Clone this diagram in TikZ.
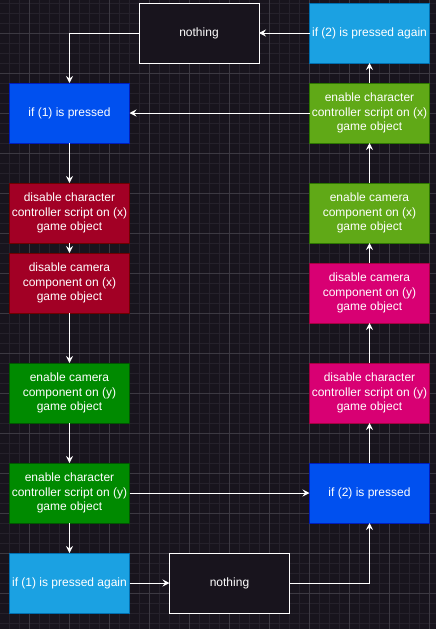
\documentclass[tikz,border=0pt]{standalone}
\usepackage{fontspec}
\setmainfont{Liberation Sans}
\usetikzlibrary{arrows.meta}
\definecolor{bgdark}{HTML}{18141D}
\definecolor{gridminor}{HTML}{25212B}
\definecolor{gridmajor}{HTML}{3C3942}
\definecolor{bluefill}{HTML}{0050EF}
\definecolor{blueline}{HTML}{001DBC}
\definecolor{skyfill}{HTML}{1BA1E2}
\definecolor{skyline}{HTML}{006EAF}
\definecolor{redfill}{HTML}{A20025}
\definecolor{redline}{HTML}{6F0000}
\definecolor{limefill}{HTML}{60A917}
\definecolor{limeline}{HTML}{2D7600}
\definecolor{greenfill}{HTML}{008A00}
\definecolor{greenline}{HTML}{005700}
\definecolor{pinkfill}{HTML}{D80073}
\definecolor{pinkline}{HTML}{A50040}
\begin{document}
\begin{tikzpicture}[x=1pt, y=-1pt,
  box/.style={draw, line width=1pt, minimum width=120pt, minimum height=60pt,
    inner sep=0pt, outer sep=0pt, align=center, text=white,
    font=\fontsize{12}{14.4}\selectfont},
  darkbox/.style={box, fill=bgdark, draw=white},
  bluebox/.style={box, fill=bluefill, draw=blueline},
  skybox/.style={box, fill=skyfill, draw=skyline},
  redbox/.style={box, fill=redfill, draw=redline},
  limebox/.style={box, fill=limefill, draw=limeline},
  greenbox/.style={box, fill=greenfill, draw=greenline},
  pinkbox/.style={box, fill=pinkfill, draw=pinkline},
  arr/.style={draw=white, line width=1pt, -{Stealth[length=7pt, width=7pt, inset=2.5pt]}}]
\useasboundingbox (0,0) rectangle (436,629);
% Fondo
\fill[bgdark] (0,0) rectangle (436,629);
\foreach \x in {-0.5,9.5,...,439.5} {
    \draw[gridminor, line width=1pt] (\x,0) -- (\x,629);
}
\foreach \y in {3,13,...,623} {
    \draw[gridminor, line width=1pt] (0,\y) -- (436,\y);
}
\foreach \x in {29.5,69.5,...,429.5} {
    \draw[gridmajor, line width=1pt] (\x,0) -- (\x,629);
}
\foreach \y in {33,73,...,593} {
    \draw[gridmajor, line width=1pt] (0,\y) -- (436,\y);
}
% Columna izquierda
\node[bluebox] (press1) at (69.5,113) {if (1) is pressed};
\node[redbox] (dischx) at (69.5,213) {disable character\\controller script on (x)\\game object};
\node[redbox] (discamx) at (69.5,283) {disable camera\\component on (x)\\game object};
\node[greenbox] (encamy) at (69.5,393) {enable camera\\component on (y)\\game object};
\node[greenbox] (enchy) at (69.5,493) {enable character\\controller script on (y)\\game object};
\node[skybox] (again1) at (69.5,583) {if (1) is pressed again};
% Columna derecha
\node[skybox] (again2) at (369.5,33) {if (2) is pressed again};
\node[limebox] (enchx) at (369.5,113) {enable character\\controller script on (x)\\game object};
\node[limebox] (encamx) at (369.5,213) {enable camera\\component on (x)\\game object};
\node[pinkbox] (discamy) at (369.5,293) {disable camera\\component on (y)\\game object};
\node[pinkbox] (dischy) at (369.5,393) {disable character\\controller script on (y)\\game object};
\node[bluebox] (press2) at (369.5,493) {if (2) is pressed};
% Nada
\node[darkbox] (nothingtop) at (199,33) {nothing};
\node[darkbox] (nothingbot) at (229.5,583) {nothing};
% Flechas izquierda
\draw[arr] (press1) -- (dischx);
\draw[arr] (dischx) -- (discamx);
\draw[arr] (discamx) -- (encamy);
\draw[arr] (encamy) -- (enchy);
\draw[arr] (enchy) -- (again1);
\draw[arr] (enchy) -- (press2);
\draw[arr] (again1) -- (nothingbot);
\draw[arr] (nothingbot.east) -| (press2.south);
% Flechas derecha
\draw[arr] (press2) -- (dischy);
\draw[arr] (dischy) -- (discamy);
\draw[arr] (discamy) -- (encamx);
\draw[arr] (encamx) -- (enchx);
\draw[arr] (enchx) -- (again2);
\draw[arr] (enchx) -- (press1);
\draw[arr] (again2) -- (nothingtop);
\draw[arr] (nothingtop.west) -| (press1.north);
\end{tikzpicture}
\end{document}
